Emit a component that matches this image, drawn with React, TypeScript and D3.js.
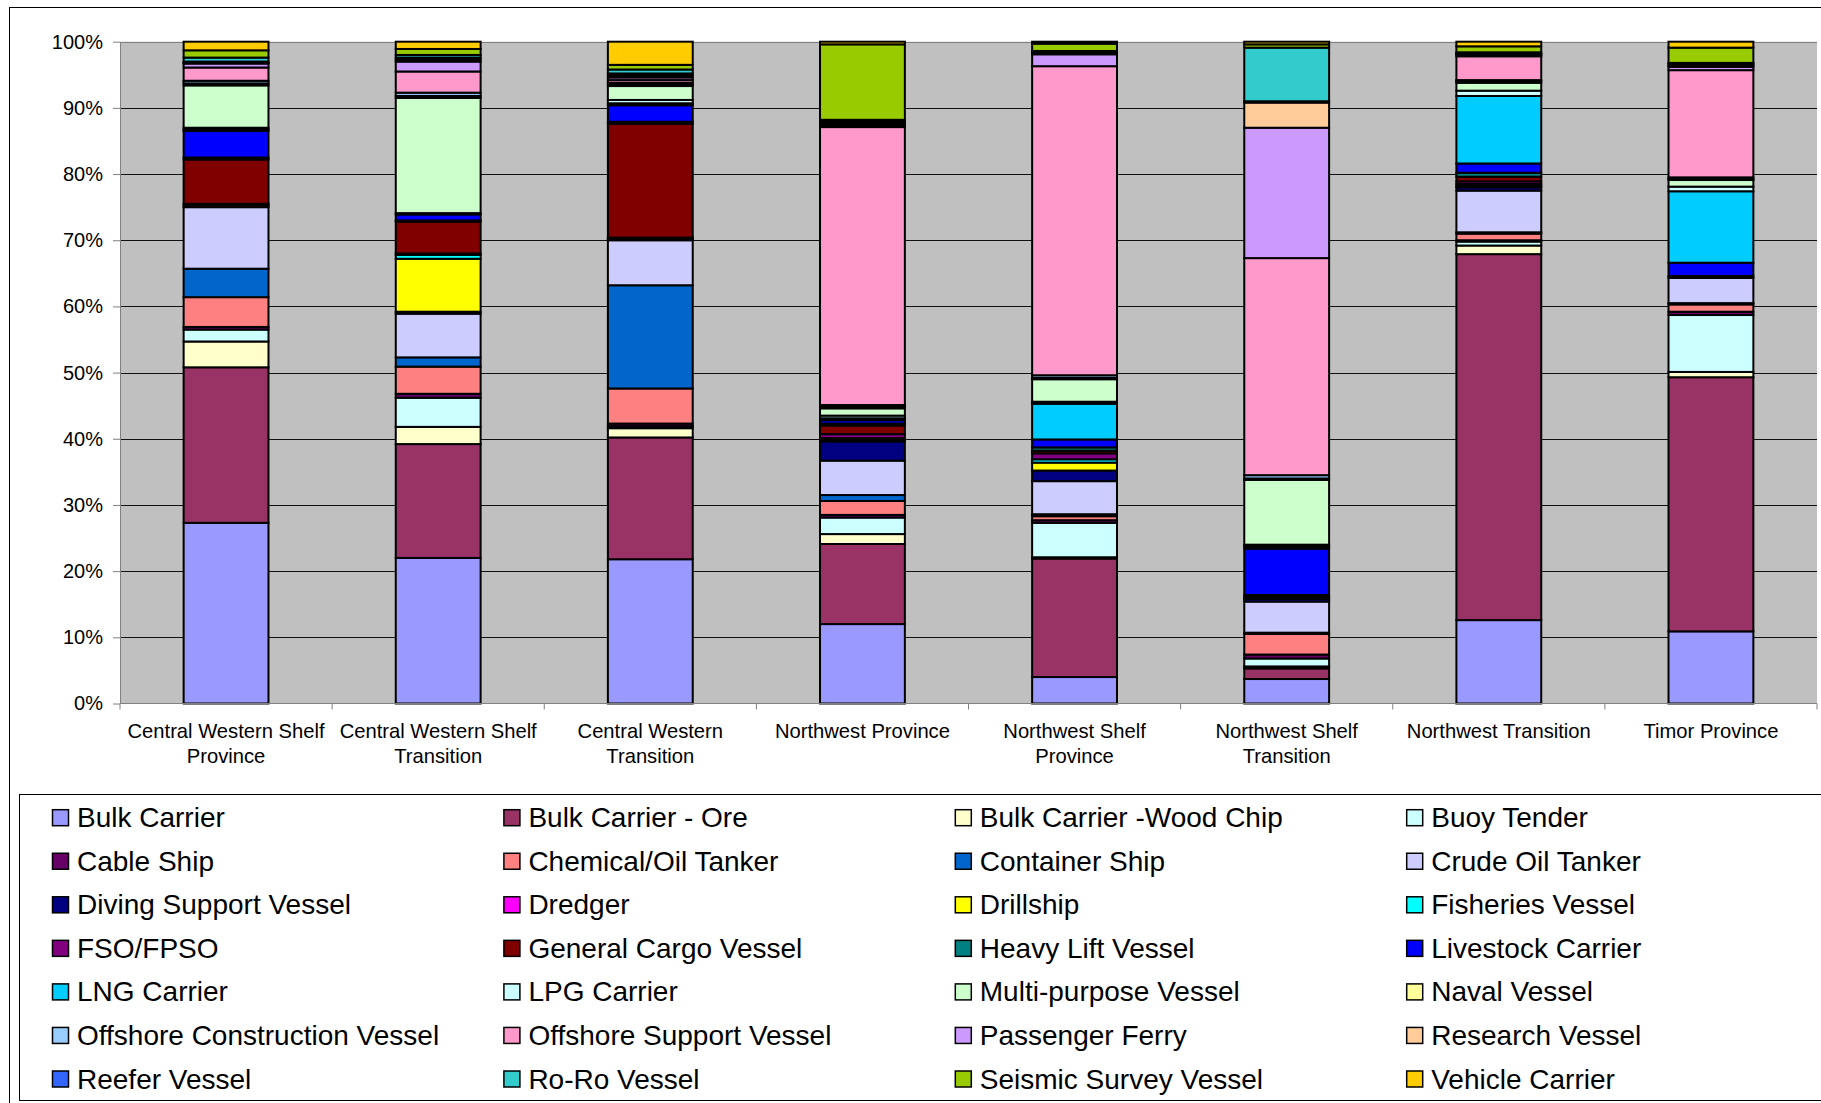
import React, {useEffect, useRef} from 'react';
import * as d3 from 'd3';

const regions = [
  "Central Western Shelf Province",
  "Central Western Shelf Transition",
  "Central Western Transition",
  "Northwest Province",
  "Northwest Shelf Province",
  "Northwest Shelf Transition",
  "Northwest Transition",
  "Timor Province",
];

// how each region name wraps under the axis
const regionLabelLines = [
  ["Central Western Shelf", "Province"],
  ["Central Western Shelf", "Transition"],
  ["Central Western", "Transition"],
  ["Northwest Province"],
  ["Northwest Shelf", "Province"],
  ["Northwest Shelf", "Transition"],
  ["Northwest Transition"],
  ["Timor Province"],
];

const vesselTypes = [
  "Bulk Carrier", "Bulk Carrier - Ore", "Bulk Carrier -Wood Chip", "Buoy Tender",
  "Cable Ship", "Chemical/Oil Tanker", "Container Ship", "Crude Oil Tanker",
  "Diving Support Vessel", "Dredger", "Drillship", "Fisheries Vessel",
  "FSO/FPSO", "General Cargo Vessel", "Heavy Lift Vessel", "Livestock Carrier",
  "LNG Carrier", "LPG Carrier", "Multi-purpose Vessel", "Naval Vessel",
  "Offshore Construction Vessel", "Offshore Support Vessel", "Passenger Ferry", "Research Vessel",
  "Reefer Vessel", "Ro-Ro Vessel", "Seismic Survey Vessel", "Vehicle Carrier",
];

const vesselColors = [
  "#9999FF", "#993366", "#FFFFCC", "#CCFFFF",
  "#660066", "#FF8080", "#0066CC", "#CCCCFF",
  "#000080", "#FF00FF", "#FFFF00", "#00FFFF",
  "#800080", "#800000", "#008080", "#0000FF",
  "#00CCFF", "#CCFFFF", "#CCFFCC", "#FFFF99",
  "#99CCFF", "#FF99CC", "#CC99FF", "#FFCC99",
  "#3366FF", "#33CCCC", "#99CC00", "#FFCC00",
];

// share of vessels (%) in each region, in vesselTypes order
const cwsProvince = [27.3, 23.5, 3.9, 1.8, 0.4, 4.5, 4.3, 9.3, 0.3, 0, 0, 0, 0.2, 6.7, 0.3, 4.0, 0.2, 0.3, 6.4, 0.3, 0.4, 2.0, 0.6, 0.1, 0.2, 0.6, 1.1, 1.3];
const cwsTransition = [22.0, 17.2, 2.6, 4.4, 0.6, 4.1, 1.4, 6.6, 0.3, 0, 8.0, 0.6, 0.2, 4.8, 0.2, 0.9, 0, 0.2, 17.4, 0.3, 0.5, 3.2, 1.5, 0.3, 0.3, 0.4, 0.9, 1.1];
const cwTransition = [21.8, 18.4, 1.4, 0.3, 0.4, 5.3, 15.6, 6.8, 0.2, 0, 0, 0, 0.2, 17.2, 0.3, 2.5, 0.3, 0.5, 2.1, 0.3, 0.2, 0.4, 0.4, 0.3, 0.3, 0.6, 0.7, 3.5];
const nwProvince = [12.0, 12.1, 1.5, 2.5, 0.4, 2.1, 0.9, 5.2, 2.9, 0, 0.3, 0.2, 0.6, 1.3, 0.3, 0.5, 0.3, 0.4, 1.1, 0.2, 0.3, 42.0, 0.3, 0.2, 0.3, 0.3, 11.4, 0.4];
const nwsProvince = [4.0, 17.9, 0.2, 5.2, 0.4, 0.6, 0.3, 5.0, 1.6, 0, 1.2, 0.5, 0.9, 0.4, 0.5, 1.2, 5.4, 0.3, 3.4, 0.2, 0.4, 46.7, 1.8, 0.2, 0.1, 0.2, 1.1, 0.3];
const nwsTransition = [3.7, 1.6, 0.3, 1.2, 0.6, 3.1, 0.2, 4.7, 0.4, 0, 0, 0.3, 0, 0.3, 0, 7.0, 0.3, 0.3, 9.8, 0.2, 0.5, 32.8, 19.7, 3.8, 0.2, 8.1, 0.5, 0.4];
const nwTransition = [12.6, 55.3, 1.3, 0.6, 0.2, 1.0, 0.2, 6.3, 0.5, 0, 0.2, 0.3, 0.4, 0.7, 0.6, 1.4, 10.2, 0.8, 1.2, 0.2, 0.2, 3.6, 0.2, 0.1, 0.1, 0.2, 0.9, 0.7];
const timorProvince = [10.9, 38.4, 0.8, 8.6, 0.5, 1.1, 0.2, 3.8, 0.3, 0, 0, 0, 0, 0, 0, 2.0, 10.8, 0.7, 1.0, 0.2, 0.2, 16.2, 0.5, 0.2, 0.2, 0.2, 2.3, 0.9];

const regionShares = [cwsProvince, cwsTransition, cwTransition, nwProvince, nwsProvince, nwsTransition, nwTransition, timorProvince];

const percentTicks = [0, 0.1, 0.2, 0.3, 0.4, 0.5, 0.6, 0.7, 0.8, 0.9, 1];

const width = 1821;
const height = 1103;
const plot = {left: 120, top: 41.7, right: 1817, bottom: 703.5};

export default function App() {
  const ref = useRef<SVGSVGElement>(null);

  useEffect(() => {
    const svg = d3.select(ref.current);
    svg.selectAll("*").remove();

    const rows = regions.map((region, i) => {
      const row: any = {region};
      vesselTypes.forEach((v, j) => row[v] = regionShares[i][j]);
      return row;
    });
    const series = d3.stack<any>().keys(vesselTypes).offset(d3.stackOffsetExpand)(rows);

    const x = d3.scaleBand(regions, [plot.left, plot.right]).paddingInner(0.6).paddingOuter(0.3);
    const y = d3.scaleLinear([0, 1], [plot.bottom, plot.top]);

    // outer chart frame
    svg.append("rect")
      .attr("x", 9.5).attr("y", 7.5)
      .attr("width", width).attr("height", height)
      .attr("fill", "#fff").attr("stroke", "#000");

    // plot area + grid
    svg.append("rect")
      .attr("x", plot.left).attr("y", plot.top)
      .attr("width", plot.right - plot.left).attr("height", plot.bottom - plot.top)
      .attr("fill", "#C0C0C0");

    svg.append("g")
      .selectAll("line")
      .data(percentTicks.filter(t => t > 0))
      .join("line")
      .attr("x1", plot.left).attr("x2", plot.right)
      .attr("y1", d => Math.round(y(d)) + 0.5).attr("y2", d => Math.round(y(d)) + 0.5)
      .attr("stroke", d => d === 1 ? "#808080" : "#111")
      .attr("stroke-width", 1);

    // stacked bars, zero shares are not drawn
    svg.append("g")
      .selectAll("g")
      .data(series)
      .join("g")
      .attr("fill", (_, i) => vesselColors[i])
      .selectAll("rect")
      .data(s => s.filter(d => d[1] - d[0] > 0))
      .join("rect")
      .attr("x", d => x(d.data.region)!)
      .attr("width", x.bandwidth())
      .attr("y", d => y(d[1]))
      .attr("height", d => y(d[0]) - y(d[1]))
      .attr("stroke", "#000")
      .attr("stroke-width", 2);

    // y axis
    svg.append("g")
      .attr("transform", `translate(${plot.left},0)`)
      .call(d3.axisLeft(y).tickValues(percentTicks).tickFormat(d3.format(".0%")).tickSize(7).tickSizeOuter(0).tickPadding(10))
      .call(g => g.selectAll(".domain,.tick line").attr("stroke", "#808080"))
      .call(g => g.selectAll("text").attr("font-size", 20).attr("fill", "#000")
        .attr("font-family", "'Liberation Sans', Arial, sans-serif"));

    // x axis with ticks on the category boundaries
    const xAxis = svg.append("g");
    xAxis.append("line")
      .attr("x1", plot.left).attr("x2", plot.right)
      .attr("y1", plot.bottom).attr("y2", plot.bottom)
      .attr("stroke", "#808080");
    xAxis.selectAll("line.tick")
      .data(d3.range(regions.length + 1))
      .join("line")
      .attr("class", "tick")
      .attr("x1", i => plot.left + i * x.step()).attr("x2", i => plot.left + i * x.step())
      .attr("y1", plot.bottom).attr("y2", plot.bottom + 6)
      .attr("stroke", "#808080");
    xAxis.selectAll("text")
      .data(regions)
      .join("text")
      .attr("x", d => x(d)! + x.bandwidth() / 2)
      .attr("text-anchor", "middle")
      .attr("font-size", 20.2)
      .selectAll("tspan")
      .data((_, i) => regionLabelLines[i])
      .join("tspan")
      .attr("x", function() { return (this.parentNode as SVGTextElement).getAttribute("x"); })
      .attr("y", (_, j) => 731 + j * 25)
      .attr("dominant-baseline", "central")
      .text(d => d);

    // legend
    const legend = svg.append("g");
    legend.append("rect")
      .attr("x", 19.5).attr("y", 794.5)
      .attr("width", width).attr("height", 306)
      .attr("fill", "#fff").attr("stroke", "#000");
    const item = legend.selectAll("g")
      .data(vesselTypes)
      .join("g")
      .attr("transform", (_, i) => `translate(${52.5 + (i % 4) * 451.4},${817.7 + Math.floor(i / 4) * 43.55})`);
    item.append("rect")
      .attr("x", 0).attr("y", -8)
      .attr("width", 16).attr("height", 16)
      .attr("fill", (_, i) => vesselColors[i])
      .attr("stroke", "#000")
      .attr("stroke-width", 1.5);
    item.append("text")
      .attr("x", 24.5)
      .attr("dominant-baseline", "central")
      .attr("font-size", 28)
      .text(d => d);
  }, []);

  return <svg ref={ref} width={width} height={height}
    style={{position: "absolute", left: 0, top: 0, display: "block", background: "#fff",
      fontFamily: "'Liberation Sans', Arial, sans-serif"}}/>;
}
